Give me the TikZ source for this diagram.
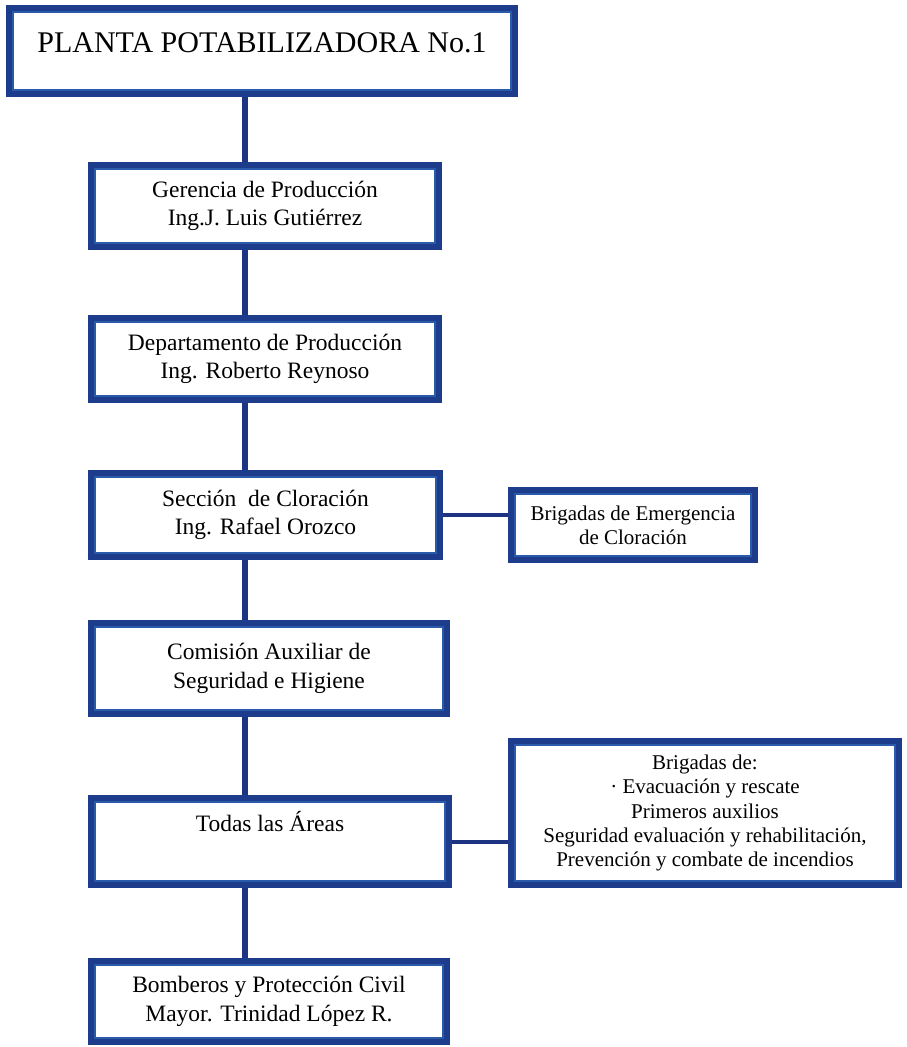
\documentclass[tikz,border=0pt]{standalone}
\usepackage{fontspec}
\setmainfont{Liberation Serif}
\usetikzlibrary{backgrounds,calc,positioning}
\definecolor{azulmarco}{RGB}{30,60,140}
\definecolor{azullinea}{RGB}{42,90,170}
\definecolor{azulconector}{RGB}{28,52,130}
\tikzset{
  marco/.style={draw=azulmarco, line width=8pt, fill=white, align=center, inner sep=2pt,
    font=\fontsize{23.5}{28.5}\selectfont},
  marcochico/.style={marco, font=\fontsize{21}{24.3}\selectfont},
  marcofino/.style={draw=azullinea, line width=2pt},
  conector/.style={draw=azulconector, line width=6pt},
  ramal/.style={draw=azulconector, line width=4pt},
}
\begin{document}
\begin{tikzpicture}[x=1pt,y=-1pt]
\pgfmathsetmacro{\eje}{245}
\pgfmathsetmacro{\borde}{7}
\useasboundingbox (0,0) rectangle (906,1047);
\coordinate (eje) at (\eje,0);
% cajas de la columna principal
\node[marco, font=\fontsize{30}{36}\selectfont, minimum width=504, minimum height=84] (planta) at (262,51) {PLANTA POTABILIZADORA No.1\\[-20pt]\mbox{}};
\node[marco, minimum width=346, minimum height=80] (gerencia) at (265,206) {Gerencia de Producción\\Ing.J. Luis Gutiérrez};
\node[marco, minimum width=346, minimum height=80] (departamento) at (265,359) {Departamento de Producción\\Ing. Roberto Reynoso};
\node[marco, minimum width=347, minimum height=82] (seccion) at (265.5,515) {Sección~ de Cloración\\Ing. Rafael Orozco};
\node[marco, minimum width=354, minimum height=89] (comision) at (269,668.5) {Comisión Auxiliar de\\Seguridad e Higiene};
\node[marco, minimum width=356, minimum height=85] (todas) at (270,841.5) {Todas las Áreas\\[4pt]\strut};
\node[marco, minimum width=354, minimum height=79] (bomberos) at (269,1001.5) {Bomberos y Protección Civil\\Mayor. Trinidad López R.};
% brigadas
\node[marcochico, minimum width=242, minimum height=68] (emergencia) at (633,525) {Brigadas de Emergencia\\de Cloración};
\node[marcochico, minimum width=386, minimum height=142] (brigadas) at (705,813) {Brigadas de:\\· Evacuación y rescate\\Primeros auxilios\\Seguridad evaluación y rehabilitación,\\Prevención y combate de incendios};
% linea interior de cada marco
\foreach \n in {planta,gerencia,departamento,seccion,comision,todas,bomberos,emergencia,brigadas}
  \draw[marcofino] ([shift={(\borde,\borde)}]\n.north west) rectangle ([shift={(-\borde,-\borde)}]\n.south east);
% conectores
\begin{scope}[on background layer]
\draw[conector] (planta.south -| eje) -- (gerencia.north -| eje);
\draw[conector] (gerencia.south -| eje) -- (departamento.north -| eje);
\draw[conector] (departamento.south -| eje) -- (seccion.north -| eje);
\draw[conector] (seccion.south -| eje) -- (comision.north -| eje);
\draw[conector] (comision.south -| eje) -- (todas.north -| eje);
\draw[conector] (todas.south -| eje) -- (bomberos.north -| eje);
\draw[ramal] (seccion.east) -- (seccion.east -| emergencia.west);
\draw[ramal] (todas.east) -- (todas.east -| brigadas.west);
\end{scope}
\end{tikzpicture}
\end{document}
